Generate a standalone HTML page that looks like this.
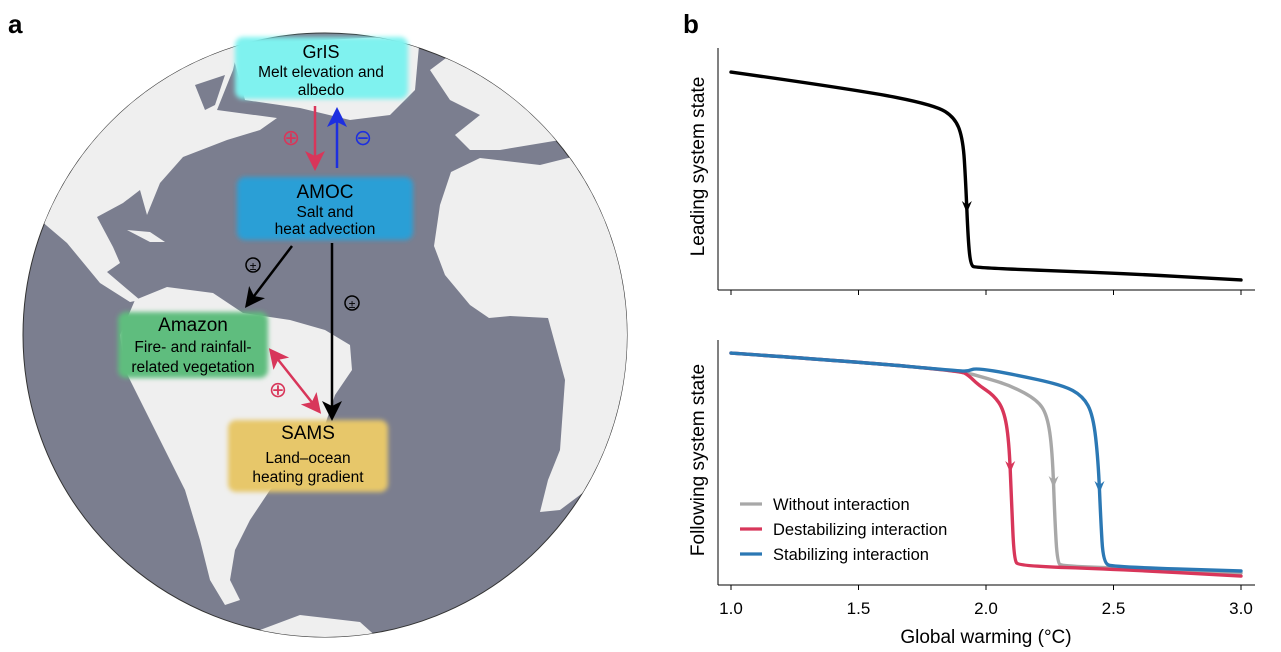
<!DOCTYPE html>
<html><head><meta charset="utf-8">
<style>
html,body{margin:0;padding:0;background:#fff;}
body{width:1281px;height:652px;overflow:hidden;position:relative;font-family:"Liberation Sans",sans-serif;}
svg{position:absolute;left:0;top:0;}
</style></head><body>
<svg width="1281" height="652" viewBox="0 0 1281 652">
<defs>
<clipPath id="gc"><circle cx="325" cy="335" r="302"/></clipPath>
<filter id="bl" x="-10%" y="-20%" width="120%" height="140%"><feGaussianBlur stdDeviation="2.5"/></filter>
<marker id="ab" markerWidth="8" markerHeight="8" refX="6" refY="4" orient="auto"><path d="M0,0 L8,4 L0,8 L2,4z" fill="#000"/></marker>
<marker id="ar" markerWidth="8" markerHeight="8" refX="6" refY="4" orient="auto"><path d="M0,0 L8,4 L0,8 L2,4z" fill="#d8365a"/></marker>
<marker id="ars" markerWidth="8" markerHeight="8" refX="2" refY="4" orient="auto"><path d="M8,0 L0,4 L8,8 L6,4z" fill="#d8365a"/></marker>
<marker id="au" markerWidth="8" markerHeight="8" refX="6" refY="4" orient="auto"><path d="M0,0 L8,4 L0,8 L2,4z" fill="#1d2fe0"/></marker>
</defs>
<text x="8" y="33" font-size="26" font-weight="bold">a</text>
<g>
<circle cx="325" cy="335" r="302" fill="#7b7e8f" stroke="#333" stroke-width="1"/>
<g clip-path="url(#gc)" fill="#efefef">
<path d="M0,0 L240,40 L233,70 L217,110 L277,118 L260,130 L227,140 L183,157 L160,183 L147,215 L140,190 L123,203 L97,217 L113,247 L120,263 L107,272 L140,300 L130,302 L100,283 L67,243 L40,220 L0,200Z"/>
<path fill="#7b7e8f" d="M195,85 L225,75 L215,105 L205,110Z"/>
<path d="M230,45 L420,35 L415,90 L390,115 L350,120 L300,108 L245,100Z"/>
<path d="M135,300 L167,287 L213,293 L243,313 L290,320 L325,330 L350,345 L352,370 L335,395 L325,425 L300,460 L270,490 L250,520 L235,550 L230,580 L240,600 L225,605 L210,580 L200,540 L185,490 L165,450 L145,410 L125,370 L120,335Z"/>
<path d="M127,230 L150,232 L165,242 L150,242Z"/>
<path d="M451,172 L480,158 L540,165 L600,150 L640,150 L640,500 L600,480 L560,510 L540,512 L548,480 L560,450 L565,380 L548,318 L510,316 L489,318 L470,305 L445,275 L434,246 L440,205Z"/>
<path d="M430,70 L470,40 L640,40 L640,140 L560,140 L500,150 L470,150 L455,135 L480,115 L450,100Z"/>
<path d="M260,630 L300,615 L360,622 L380,640 L260,640Z"/>
</g>
</g>
<g>
<rect x="235" y="37" width="173" height="62" rx="8" fill="#7ff2ef" filter="url(#bl)"/>
<text x="321" y="58" font-size="18" text-anchor="middle">GrIS</text>
<text x="321" y="77" font-size="15.5" text-anchor="middle">Melt elevation and</text>
<text x="321" y="95" font-size="15.5" text-anchor="middle">albedo</text>
</g>
<g>
<rect x="237" y="177" width="176" height="63" rx="8" fill="#2b9fd6" filter="url(#bl)"/>
<text x="325" y="198" font-size="19" text-anchor="middle">AMOC</text>
<text x="325" y="217" font-size="15.5" text-anchor="middle">Salt and</text>
<text x="325" y="234" font-size="15.5" text-anchor="middle">heat advection</text>
</g>
<g>
<rect x="118" y="312" width="150" height="66" rx="8" fill="#5fbd7e" filter="url(#bl)"/>
<text x="193" y="331" font-size="19" text-anchor="middle">Amazon</text>
<text x="193" y="352" font-size="15.5" text-anchor="middle">Fire- and rainfall-</text>
<text x="193" y="372" font-size="15.5" text-anchor="middle">related vegetation</text>
</g>
<g>
<rect x="228" y="420" width="160" height="72" rx="8" fill="#e7c76b" filter="url(#bl)"/>
<text x="308" y="439" font-size="19" text-anchor="middle">SAMS</text>
<text x="308" y="463" font-size="15.5" text-anchor="middle">Land–ocean</text>
<text x="308" y="482" font-size="15.5" text-anchor="middle">heating gradient</text>
</g>
<g>
<line x1="315" y1="106" x2="315" y2="166" stroke="#d8365a" stroke-width="2.5" marker-end="url(#ar)"/>
<line x1="337" y1="168" x2="337" y2="112" stroke="#1d2fe0" stroke-width="2.5" marker-end="url(#au)"/>
<line x1="292" y1="246" x2="248" y2="304" stroke="#000" stroke-width="2.5" marker-end="url(#ab)"/>
<line x1="332" y1="243" x2="332" y2="416" stroke="#000" stroke-width="2.5" marker-end="url(#ab)"/>
<line x1="272" y1="352" x2="318" y2="410" stroke="#d8365a" stroke-width="2.5" marker-end="url(#ar)" marker-start="url(#ars)"/>
<text x="291" y="145" font-size="22" fill="#d8365a" text-anchor="middle">⊕</text>
<text x="363" y="145" font-size="22" fill="#1d2fe0" text-anchor="middle">⊖</text>
<text x="278" y="397" font-size="22" fill="#d8365a" text-anchor="middle">⊕</text>
<circle cx="253" cy="265" r="7" fill="none" stroke="#000" stroke-width="1.5"/><text x="253" y="270" font-size="12" text-anchor="middle">±</text>
<circle cx="352" cy="303" r="7" fill="none" stroke="#000" stroke-width="1.5"/><text x="352" y="308" font-size="12" text-anchor="middle">±</text>
</g>
<text x="683" y="33" font-size="26" font-weight="bold">b</text>
<g id="chart"></g>
</svg>
<script>
const xTicks=[1.0,1.5,2.0,2.5,3.0];
const xTickLabels=["1.0","1.5","2.0","2.5","3.0"];
const leadX=[1.0,1.5,1.8,1.88,1.91,1.92,1.93,1.94,1.96,2.5,3.0];
const leadY=[0.915,0.839,0.775,0.72,0.627,0.458,0.203,0.097,0.085,0.064,0.034];
const grayX=[1.0,1.5,1.9,2.0,2.1,2.2,2.24,2.26,2.27,2.28,2.3,2.5,3.0];
const grayY=[0.958,0.921,0.883,0.854,0.821,0.763,0.70,0.554,0.263,0.083,0.071,0.063,0.042];
const redX=[1.0,1.5,1.9,1.93,1.97,2.03,2.07,2.09,2.1,2.11,2.13,2.5,3.0];
const redY=[0.958,0.921,0.883,0.867,0.825,0.783,0.721,0.596,0.346,0.096,0.071,0.058,0.029];
const blueX=[1.0,1.5,1.9,1.93,1.96,2.1,2.3,2.38,2.42,2.44,2.45,2.46,2.5,3.0];
const blueY=[0.958,0.921,0.883,0.883,0.896,0.871,0.825,0.779,0.70,0.512,0.263,0.083,0.067,0.05];
const legendLabels=["Without interaction","Destabilizing interaction","Stabilizing interaction"];
const legendColors=["#a8a8a8","#d8365a","#2b78b4"];

const NS="http://www.w3.org/2000/svg";
const g=document.getElementById('chart');
function mk(t,a){const e=document.createElementNS(NS,t);for(const k in a)e.setAttribute(k,a[k]);g.appendChild(e);return e;}
const sx=v=>731+(v-1)*255;
const syTop=v=>288-v*236;
const syBot=v=>583-v*240;
function axes(top,bottom,name,title){
  let e=mk('line',{x1:718,y1:top,x2:718,y2:bottom+5,stroke:'#000','stroke-width':1});
  
  
  e=mk('line',{x1:718,y1:bottom+5,x2:1255,y2:bottom+5,stroke:'#000','stroke-width':1});
  
  
  xTicks.forEach(t=>{const l=mk('line',{x1:sx(t),y1:bottom+5,x2:sx(t),y2:bottom+10,stroke:'#000'});
    
    });
  const cy=(top+bottom)/2;
  e=mk('text',{x:0,y:0,'font-size':19,'text-anchor':'middle',transform:`translate(704,${cy}) rotate(-90)`});
  e.textContent=title;
  
  
}
function arrowHead(x,y,c){const e=mk('path',{d:`M${x-5},${y-9} L${x},${y+3} L${x+5},${y-9} L${x},${y-5}Z`,fill:c});
  
  }
function series(X,Y,sy,c,name){
  const P=X.map((x,i)=>[sx(x),sy(Y[i])]);
  let d='M'+P[0][0]+','+P[0][1];
  for(let i=1;i<P.length-1;i++){const mx=(P[i][0]+P[i+1][0])/2,my=(P[i][1]+P[i+1][1])/2;d+=` Q${P[i][0]},${P[i][1]} ${mx},${my}`;}
  d+=' L'+P[P.length-1][0]+','+P[P.length-1][1];
  const p=mk('path',{d:d,fill:'none',stroke:c,'stroke-width':3.4,'stroke-linejoin':'round','stroke-linecap':'round'});
  
  
  let best=0,bi=1;for(let i=1;i<X.length;i++){const dy=Math.abs(sy(Y[i])-sy(Y[i-1]));if(dy>best){best=dy;bi=i;}}
  arrowHead((sx(X[bi])+sx(X[bi-1]))/2,(sy(Y[bi])+sy(Y[bi-1]))/2,c);
}
axes(48,285,'top-panel','Leading system state');
series(leadX,leadY,syTop,'#000','leading-system-line');
axes(340,580,'bottom-panel','Following system state');
series(grayX,grayY,syBot,legendColors[0],'without-interaction-line');
series(redX,redY,syBot,legendColors[1],'destabilizing-interaction-line');
series(blueX,blueY,syBot,legendColors[2],'stabilizing-interaction-line');
xTicks.forEach((t,i)=>{const e=mk('text',{x:sx(t),y:614,'font-size':17,'text-anchor':'middle'});e.textContent=xTickLabels[i];
  
  });
let xt=mk('text',{x:986,y:643,'font-size':19,'text-anchor':'middle'});xt.textContent='Global warming (°C)';


legendLabels.forEach((lab,i)=>{const y=504+i*25;
  const l=mk('line',{x1:740,y1:y,x2:762,y2:y,stroke:legendColors[i],'stroke-width':3.2});
  
  
  const t=mk('text',{x:773,y:y+6,'font-size':16.5});t.textContent=lab;
  
  });
</script>
</body></html>
